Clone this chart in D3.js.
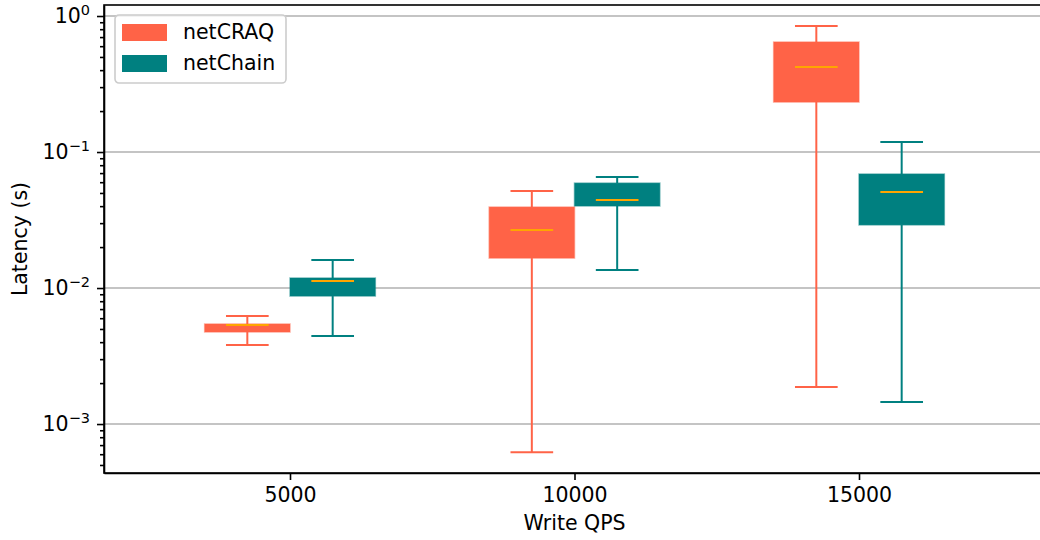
<!DOCTYPE html>
<html>
<head>
<meta charset="utf-8">
<script src="https://cdn.jsdelivr.net/npm/d3@7"></script>
<style>
  body { margin: 0; background: #fff; }
  text { font-family: "DejaVu Sans", sans-serif; fill: #000; }
</style>
</head>
<body>
<div id="chart"></div>
<script>
const width = 1040, height = 540;
const margin = {top: 5, right: -5, bottom: 67, left: 104};

// data
const qps = [5000, 10000, 15000];
const seriesNames = ["netCRAQ", "netChain"];
const seriesColors = ["#ff6347", "#008080"];
// [low whisker, q1, median, q3, high whisker]
const netCRAQ = [
  [0.00381, 0.00475, 0.00535, 0.00544, 0.00622],
  [0.00062, 0.0166, 0.0267, 0.0394, 0.0517],
  [0.00187, 0.233, 0.422, 0.644, 0.844]
];
const netChain = [
  [0.00444, 0.00873, 0.01125, 0.01185, 0.01607],
  [0.01356, 0.0401, 0.0444, 0.0591, 0.0655],
  [0.00145, 0.0291, 0.0508, 0.0689, 0.1185]
];
const offsets = [-750, 750];
const boxWidth = 1500;
const yTicks = [1e-3, 1e-2, 1e-1, 1];
const yTickExp = ["\u22123", "\u22122", "\u22121", "0"];

const plotW = width - margin.left - margin.right;
const plotH = height - margin.top - margin.bottom;

const svg = d3.select("#chart").append("svg")
    .attr("width", width)
    .attr("height", height);

const g = svg.append("g")
    .attr("transform", `translate(${margin.left},${margin.top})`);

let x = d3.scaleLinear().domain([1731, 18269]).range([0, plotW]);
let y = d3.scaleLog().domain([Math.pow(10, -3.36), Math.pow(10, 0.081)]).range([plotH, 0]);

// grid
g.append("g").selectAll("line").data(yTicks).enter().append("line")
    .attr("x1", 0).attr("x2", plotW)
    .attr("y1", d => y(d)).attr("y2", d => y(d))
    .attr("stroke", "#b0b0b0").attr("stroke-width", 1.6);

// boxes
[netCRAQ, netChain].forEach(function(series, si) {
  const col = seriesColors[si];
  const grp = g.append("g");
  series.forEach(function(s, i) {
    const c = qps[i] + offsets[si];
    const x0 = x(c - boxWidth / 2), x1 = x(c + boxWidth / 2);
    const xc = x(c);
    const capL = x(c - boxWidth / 4), capR = x(c + boxWidth / 4);
    // whiskers
    grp.append("line").attr("x1", xc).attr("x2", xc)
        .attr("y1", y(s[0])).attr("y2", y(s[1]))
        .attr("stroke", col).attr("stroke-width", 2);
    grp.append("line").attr("x1", xc).attr("x2", xc)
        .attr("y1", y(s[3])).attr("y2", y(s[4]))
        .attr("stroke", col).attr("stroke-width", 2);
    // caps
    [s[0], s[4]].forEach(function(v) {
      grp.append("line").attr("x1", capL).attr("x2", capR)
          .attr("y1", y(v)).attr("y2", y(v))
          .attr("stroke", col).attr("stroke-width", 2);
    });
    grp.append("rect")
        .attr("x", x0).attr("width", x1 - x0)
        .attr("y", y(s[3])).attr("height", y(s[1]) - y(s[3]))
        .attr("fill", col)
        .attr("stroke", col).attr("stroke-opacity", 0.5).attr("stroke-width", 1.5);
    grp.append("line").attr("x1", capL).attr("x2", capR)
        .attr("y1", y(s[2])).attr("y2", y(s[2]))
        .attr("stroke", "#ffa500").attr("stroke-width", 2);
  });
});

// axes
let xAxis = g.append("g")
    .attr("transform", `translate(0,${plotH})`)
    .call(d3.axisBottom(x).tickValues(qps).tickSize(7).tickSizeOuter(0).tickPadding(7).tickFormat(d3.format("d")));
xAxis.selectAll("text").style("font-size", "20.5px");

let minorTicks = [];
for (let e = -4; e <= 0; e++) {
  for (let m = 2; m <= 9; m++) {
    const v = m * Math.pow(10, e);
    if (v >= y.domain()[0] && v <= y.domain()[1]) minorTicks.push(v);
  }
}
let yMinor = g.append("g")
    .call(d3.axisLeft(y).tickValues(minorTicks).tickSize(4).tickSizeOuter(0).tickFormat(""));
yMinor.select(".domain").remove();

let yAxis = g.append("g")
    .call(d3.axisLeft(y).tickValues(yTicks).tickSize(7).tickSizeOuter(0).tickPadding(7).tickFormat(""));

yAxis.selectAll(".tick").each(function(d, i) {
  const t = d3.select(this).append("text")
      .attr("x", -14).attr("dy", "0.32em")
      .attr("text-anchor", "end")
      .style("font-size", "20.5px");
  t.append("tspan").text("10");
  t.append("tspan").attr("dy", "-0.55em").style("font-size", "14.5px").text(yTickExp[i]);
});

g.selectAll(".domain").attr("stroke-width", 1.6);
g.selectAll(".tick line").attr("stroke-width", 1.6);

// frame
g.append("rect").attr("x", 0).attr("y", 0).attr("width", plotW).attr("height", plotH)
    .attr("fill", "none").attr("stroke", "#000").attr("stroke-width", 1.6);

// labels
svg.append("text")
    .attr("x", margin.left + x(10000)).attr("y", 530)
    .attr("text-anchor", "middle").style("font-size", "20.5px")
    .text("Write QPS");
svg.append("text")
    .attr("transform", `translate(27,${margin.top + plotH / 2}) rotate(-90)`)
    .attr("text-anchor", "middle").style("font-size", "20.5px")
    .text("Latency (s)");

// legend
let legend = svg.append("g").attr("transform", "translate(115,15)");
legend.append("rect").attr("width", 171).attr("height", 68).attr("rx", 4)
    .attr("fill", "#fff").attr("fill-opacity", 0.8)
    .attr("stroke", "#cccccc").attr("stroke-width", 1.6);
seriesNames.forEach(function(name, i) {
  legend.append("rect").attr("x", 7).attr("y", 9 + i * 31).attr("width", 45).attr("height", 17)
      .attr("fill", seriesColors[i]);
  legend.append("text").attr("x", 68).attr("y", 24 + i * 31)
      .style("font-size", "20.5px").text(name);
});
</script>
</body>
</html>
